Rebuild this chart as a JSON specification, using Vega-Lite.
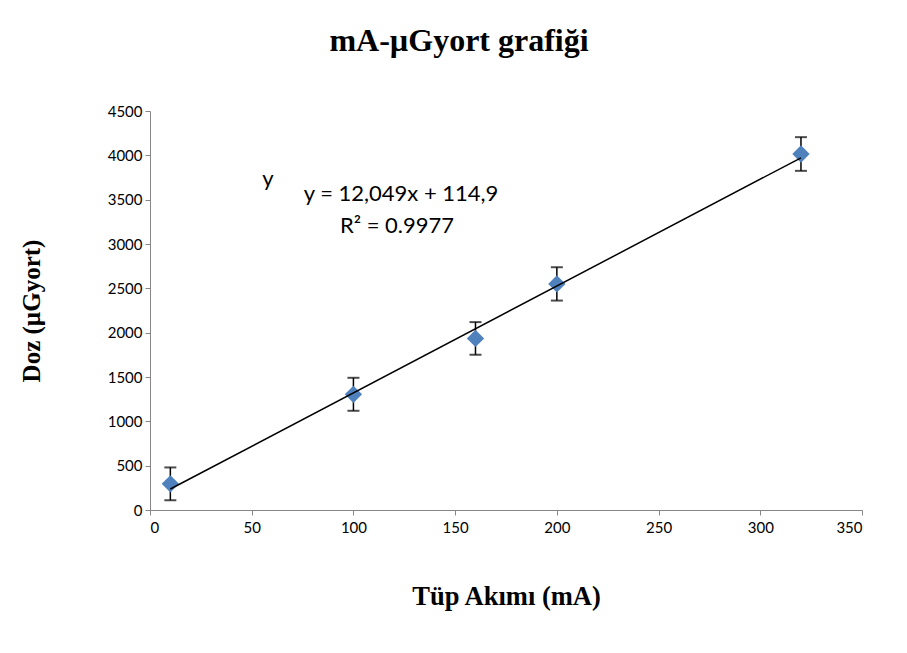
{
  "$schema": "https://vega.github.io/schema/vega-lite/v6.json",
  "width": 712,
  "height": 399,
  "autosize": {"type": "none"},
  "padding": {"left": 150, "top": 111, "right": 45, "bottom": 143},
  "background": "white",
  "title": {
    "text": "mA-µGyort grafiği",
    "font": "Liberation Serif",
    "fontSize": 32,
    "fontWeight": "bold",
    "color": "black",
    "anchor": "middle",
    "offset": 46,
    "dx": -47
  },
  "config": {
    "view": {"stroke": null},
    "axis": {
      "grid": false,
      "domainColor": "#868686",
      "tickColor": "#868686",
      "tickSize": 5,
      "labelFont": "Lato",
      "labelFontSize": 15,
      "labelColor": "black",
      "titleFont": "Liberation Serif",
      "titleFontSize": 25,
      "titleFontWeight": "bold",
      "titleColor": "black"
    }
  },
  "datasets": {
    "pts": [
      {"mA": 10, "doz": 295, "err": 185},
      {"mA": 100, "doz": 1305, "err": 186},
      {"mA": 160, "doz": 1935, "err": 184},
      {"mA": 200, "doz": 2550, "err": 188},
      {"mA": 320, "doz": 4015, "err": 190}
    ],
    "notes": [
      {"mA": 123.4, "doz": 3564, "label": "y = 12,049x + 114,9"},
      {"mA": 121.4, "doz": 3203, "label": "R² = 0.9977"},
      {"mA": 58, "doz": 3730, "label": "y"}
    ]
  },
  "layer": [
    {
      "data": {"name": "pts"},
      "mark": {
        "type": "errorbar",
        "ticks": {"size": 12, "thickness": 2, "color": "black"},
        "rule": {"strokeWidth": 1.5, "color": "black"}
      },
      "encoding": {
        "x": {
          "field": "mA", "type": "quantitative",
          "scale": {"domain": [0, 350], "nice": false},
          "axis": {"values": [0, 50, 100, 150, 200, 250, 300, 350], "format": "d", "title": "Tüp Akımı (mA)", "titleFontSize": 26.5, "titlePadding": 48, "labelPadding": 5}
        },
        "y": {
          "field": "doz", "type": "quantitative",
          "scale": {"domain": [0, 4500], "nice": false},
          "axis": {"values": [0, 500, 1000, 1500, 2000, 2500, 3000, 3500, 4000, 4500], "format": "d", "title": "Doz (µGyort)", "titlePadding": 63, "labelPadding": 3}
        },
        "yError": {"field": "err"}
      }
    },
    {
      "data": {"name": "pts"},
      "mark": {"type": "point", "shape": "diamond", "filled": true, "size": 300, "color": "#4F81BD", "opacity": 1},
      "encoding": {
        "x": {"field": "mA", "type": "quantitative"},
        "y": {"field": "doz", "type": "quantitative"}
      }
    },
    {
      "data": {"name": "pts"},
      "transform": [{"regression": "doz", "on": "mA", "method": "linear"}],
      "mark": {"type": "line", "color": "black", "strokeWidth": 1.5},
      "encoding": {
        "x": {"field": "mA", "type": "quantitative"},
        "y": {"field": "doz", "type": "quantitative"}
      }
    },
    {
      "data": {"name": "notes"},
      "mark": {"type": "text", "font": "Lato", "fontSize": 22, "color": "black", "align": "center", "baseline": "middle"},
      "encoding": {
        "x": {"field": "mA", "type": "quantitative"},
        "y": {"field": "doz", "type": "quantitative"},
        "text": {"field": "label"}
      }
    }
  ]
}
